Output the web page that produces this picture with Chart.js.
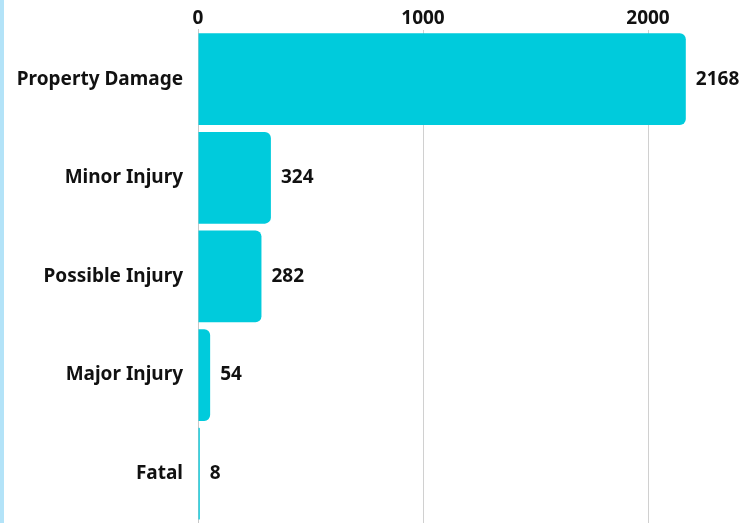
<!DOCTYPE html>
<html>
<head>
<meta charset="utf-8">
<script src="https://cdn.jsdelivr.net/npm/chart.js@4"></script>
<style>
html,body{margin:0;padding:0;background:#fff;}
body{width:743px;height:523px;overflow:hidden;position:relative;}
#strip{position:absolute;left:0;top:0;width:4px;height:523px;background:#b3e3f8;}
#c{position:absolute;left:5px;top:0;}
</style>
</head>
<body>
<div id="strip"></div>
<canvas id="c" width="738" height="523"></canvas>
<script>
const categories = ["Property Damage", "Minor Injury", "Possible Injury", "Major Injury", "Fatal"];
const crashCounts = [2168, 324, 282, 54, 8];
const tickValues = [0, 1000, 2000];

const FONT = "'Noto Sans', 'Open Sans', sans-serif";

const valueLabels = {
  id: 'valueLabels',
  afterDatasetsDraw(chart) {
    const ctx = chart.ctx;
    const meta = chart.getDatasetMeta(0);
    ctx.save();
    ctx.font = "bold 19px " + FONT;
    ctx.fillStyle = '#111';
    ctx.textAlign = 'left';
    ctx.textBaseline = 'middle';
    meta.data.forEach((bar, i) => {
      ctx.fillText(String(crashCounts[i]), bar.x + 10, bar.y);
    });
    ctx.restore();
  }
};

new Chart(document.getElementById('c'), {
  type: 'bar',
  data: {
    labels: categories,
    datasets: [{
      data: crashCounts,
      backgroundColor: '#00cbdc',
      borderRadius: 6,
      borderSkipped: 'start',
      categoryPercentage: 1.0,
      barPercentage: 0.93
    }]
  },
  options: {
    indexAxis: 'y',
    responsive: false,
    animation: false,
    layout: { padding: { top: 7, right: 5, bottom: 0, left: 0 } },
    plugins: { legend: { display: false }, tooltip: { enabled: false } },
    scales: {
      x: {
        position: 'top',
        min: 0,
        max: 2400,
        afterBuildTicks(axis) { axis.ticks = tickValues.map(v => ({ value: v })); },
        grid: { color: '#d0d0d0', drawTicks: false, lineWidth: 1 },
        border: { display: false },
        ticks: { color: '#111', font: { family: FONT, weight: 'bold', size: 19 }, padding: 0,
                 callback: v => String(v) }
      },
      y: {
        afterFit(axis) { axis.width = 193; axis.paddingTop = 0; axis.paddingBottom = 0; },
        grid: { display: false, drawTicks: false },
        border: { display: true, color: '#c8c8c8' },
        ticks: { color: '#111', font: { family: FONT, weight: 'bold', size: 19 }, padding: 15 }
      }
    }
  },
  plugins: [valueLabels]
});
</script>
</body>
</html>
